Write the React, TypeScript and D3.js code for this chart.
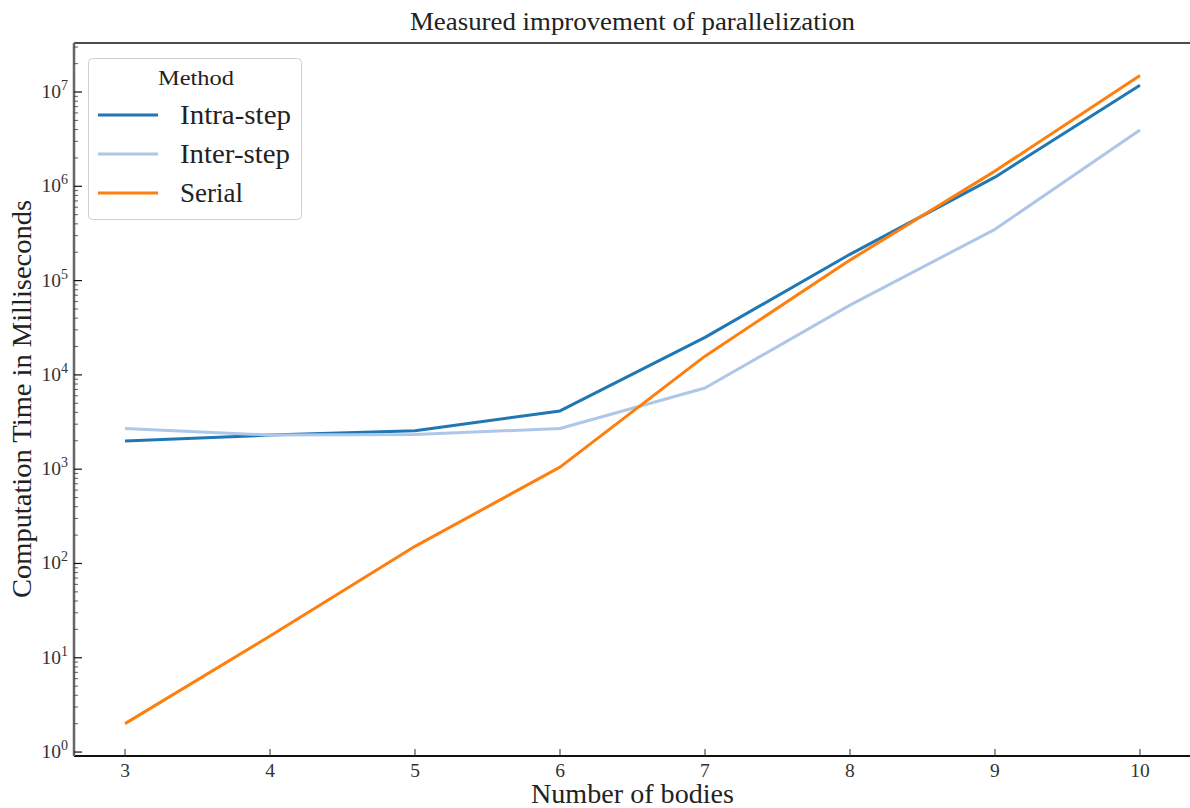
import React from "react";
import * as d3 from "d3";

const bodies = [3, 4, 5, 6, 7, 8, 9, 10];
const intraStep = [1990, 2300, 2550, 4150, 25000, 190000, 1250000, 11800000];
const interStep = [2700, 2300, 2330, 2700, 7250, 55000, 350000, 3950000];
const serial = [2, 17, 152, 1050, 15800, 165000, 1450000, 15000000];
const seriesNames = ["Intra-step", "Inter-step", "Serial"];
const seriesColors = ["#1f77b4", "#aec7e8", "#ff7f0e"];
const xTicks = [3, 4, 5, 6, 7, 8, 9, 10];
const yExps = [0, 1, 2, 3, 4, 5, 6, 7];
const legendWidths = [111, 110, 63];

const W = 1190, H = 808;
const L = 74, R = 1191, T = 43, B = 756;
const FONT = "'Liberation Serif', serif";

export default function App() {
  const x = d3.scaleLinear().domain([2.648, 10.352]).range([L, R]);
  const y = d3.scaleLog().domain([Math.pow(10, -0.042), Math.pow(10, 7.52)]).range([B, T]);
  const line = d3.line<number>().x((_, i) => x(bodies[i])).y((v) => y(v));
  const all = [intraStep, interStep, serial];
  const minor: number[] = [];
  for (let e = 0; e <= 7; e++) for (let m = 2; m <= 9; m++) {
    const v = m * Math.pow(10, e);
    if (v <= y.domain()[1]) minor.push(v);
  }
  return (
    <div style={{ position: "absolute", left: 0, top: 0 }}>
      <svg width={W} height={H} style={{ display: "block", fontFamily: FONT }}>
        <rect width={W} height={H} fill="#fff" />
        <text x={410} y={30} fontSize={25} fill="#222" textLength={445} lengthAdjust="spacingAndGlyphs">Measured improvement of parallelization</text>
        {/* series */}
        {all.map((s, i) => (
          <path key={i} d={line(s) || ""} fill="none" stroke={seriesColors[i]} strokeWidth={3} strokeLinejoin="round" />
        ))}
        {/* spines */}
        <line x1={L} x2={R} y1={T} y2={T} stroke="#111" strokeWidth={1.5} />
        <line x1={L} x2={R} y1={B} y2={B} stroke="#111" strokeWidth={2} />
        <line x1={L} x2={L} y1={T} y2={B} stroke="#666" strokeWidth={2.5} />
        {/* x ticks */}
        {xTicks.map((t) => (
          <g key={t}>
            <line x1={x(t)} x2={x(t)} y1={B} y2={B - 7} stroke="#333" strokeWidth={1} />
            <text x={x(t)} y={777} textAnchor="middle" fontSize={19.5} fill="#333">{t}</text>
          </g>
        ))}
        {/* y minor ticks */}
        {minor.map((v, i) => (
          <line key={i} x1={L} x2={L + 4} y1={y(v)} y2={y(v)} stroke="#333" strokeWidth={0.8} />
        ))}
        {/* y major ticks */}
        {yExps.map((e) => (
          <g key={e}>
            <line x1={L} x2={L + 8} y1={y(Math.pow(10, e))} y2={y(Math.pow(10, e))} stroke="#111" strokeWidth={1.2} />
            <text x={L - 6} y={y(Math.pow(10, e)) + 6} textAnchor="end" fontSize={19.5} fill="#333">
              10<tspan dy={-8} fontSize={14}>{e}</tspan>
            </text>
          </g>
        ))}
        {/* axis labels */}
        <text x={531} y={803} fontSize={27} fill="#222" textLength={203} lengthAdjust="spacingAndGlyphs">Number of bodies</text>
        <text transform={`translate(31,598) rotate(-90)`} fontSize={27} fill="#222" textLength={398} lengthAdjust="spacingAndGlyphs">Computation Time in Milliseconds</text>
        {/* legend */}
        <rect x={88.5} y={58.5} width={213} height={161} rx={4} fill="#fff" fillOpacity={0.8} stroke="#d0d0d0" strokeWidth={1} />
        <text x={158} y={85} fontSize={21} fill="#222" textLength={76} lengthAdjust="spacingAndGlyphs">Method</text>
        {seriesNames.map((n, i) => (
          <g key={n}>
            <line x1={98} x2={158} y1={115 + i * 39} y2={115 + i * 39} stroke={seriesColors[i]} strokeWidth={3} />
            <text x={180} y={124 + i * 39} fontSize={27} fill="#222" textLength={legendWidths[i]} lengthAdjust="spacingAndGlyphs">{n}</text>
          </g>
        ))}
      </svg>
    </div>
  );
}
